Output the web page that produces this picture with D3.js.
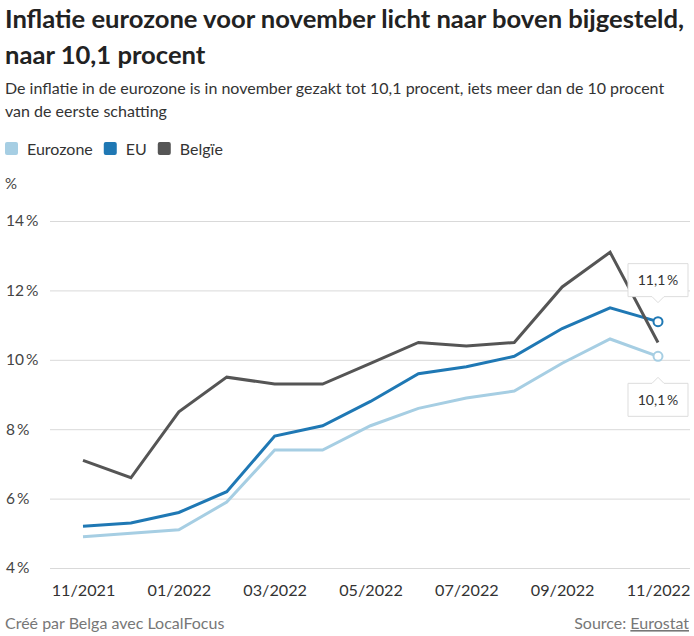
<!DOCTYPE html>
<html><head><meta charset="utf-8">
<script src="https://cdn.jsdelivr.net/npm/d3@7"></script>
<style>
body{margin:0;background:#fff;font-family:Lato,"Open Sans",sans-serif;}
</style></head>
<body><svg id="c" width="694" height="636"></svg>
<script>
const months = ["11/2021","12/2021","01/2022","02/2022","03/2022","04/2022","05/2022","06/2022","07/2022","08/2022","09/2022","10/2022","11/2022"];
const tickLabels = ["11/2021","01/2022","03/2022","05/2022","07/2022","09/2022","11/2022"];
const eurozone = [4.9,5.0,5.1,5.9,7.4,7.4,8.1,8.6,8.9,9.1,9.9,10.6,10.1];
const eu = [5.2,5.3,5.6,6.2,7.8,8.1,8.8,9.6,9.8,10.1,10.9,11.5,11.1];
const belgie = [7.1,6.6,8.5,9.5,9.3,9.3,9.9,10.5,10.4,10.5,12.1,13.1,10.5];
const yTicks = [4,6,8,10,12,14];
const seriesNames = ["Eurozone","EU","Belgïe"];
const colors = ["#a6cee3","#1f78b4","#555555"];

const svg = d3.select("#c");
const x = d3.scalePoint().domain(months).range([83,658]);
const y = d3.scaleLinear().domain([4,14]).range([568,221]);

// title
svg.append("text").attr("x",5).attr("y",28).attr("font-size",25.6).attr("font-weight",700).attr("fill","#222").text("Inflatie eurozone voor november licht naar boven bijgesteld,");
svg.append("text").attr("x",5).attr("y",64).attr("font-size",25.6).attr("font-weight",700).attr("fill","#222").text("naar 10,1 procent");
svg.append("text").attr("x",5).attr("y",94).attr("font-size",16).attr("fill","#333").text("De inflatie in de eurozone is in november gezakt tot 10,1 procent, iets meer dan de 10 procent");
svg.append("text").attr("x",5).attr("y",117).attr("font-size",16).attr("fill","#333").text("van de eerste schatting");

// legend
const lg = svg.append("g");
let lx = 5;
seriesNames.forEach((n,i)=>{
  lg.append("rect").attr("x",lx).attr("y",142).attr("width",13).attr("height",13).attr("rx",2).attr("fill",colors[i]);
  const t = lg.append("text").attr("x",lx+22).attr("y",155).attr("font-size",16).attr("fill","#333").text(n);
  lx += 22 + t.node().getComputedTextLength() + 11;
});
svg.append("text").attr("x",5).attr("y",189).attr("font-size",15).attr("fill","#444").text("%");

// y grid + labels
const ya = svg.append("g").attr("transform","translate(50,0)")
  .call(d3.axisRight(y).tickValues(yTicks).tickSize(640).tickFormat(d=>d+"\u2009%"));
ya.select(".domain").remove();
ya.selectAll(".tick line").attr("stroke","#d9d9d9").attr("stroke-width",1);
ya.selectAll(".tick text").attr("x",-44).attr("text-anchor","start").attr("font-size",15.5).attr("font-family","Lato").attr("fill","#444");

// x axis
const xa = svg.append("g").attr("transform","translate(0,568)")
  .call(d3.axisBottom(x).tickValues(tickLabels).tickSize(0).tickPadding(16));
xa.select(".domain").remove();
xa.selectAll(".tick text").attr("font-size",16.2).attr("font-family","Lato").attr("fill","#333");

// lines
const line = d3.line().x((d,i)=>x(months[i])).y(d=>y(d));
[eurozone,eu,belgie].forEach((s,i)=>{
  svg.append("path").datum(s).attr("d",line).attr("fill","none").attr("stroke",colors[i]).attr("stroke-width",3).attr("stroke-linejoin","miter");
});

// end markers
const last = months.length-1;
[[eurozone,0],[eu,1]].forEach(([s,i])=>{
  svg.append("circle").attr("cx",x(months[last])).attr("cy",y(s[last])).attr("r",4.5).attr("fill","#fff").attr("stroke",colors[i]).attr("stroke-width",2);
});

// annotation boxes
function box(cx, cy, up, label){
  const w=60,h=33,p=6;
  const g = svg.append("g");
  let d;
  const top=cy, bot=cy+h;
  if(!up){
    d=`M${cx-w/2},${top}H${cx+w/2}V${bot}H${cx+p}L${cx},${bot+p}L${cx-p},${bot}H${cx-w/2}Z`;
  } else {
    d=`M${cx-w/2},${top}H${cx-p}L${cx},${top-p}L${cx+p},${top}H${cx+w/2}V${bot}H${cx-w/2}Z`;
  }
  g.append("path").attr("d",d).attr("fill","#fff").attr("stroke","#ddd").attr("stroke-width",1).attr("stroke-linejoin","round");
  g.append("text").attr("x",cx).attr("y",cy+h/2+5).attr("text-anchor","middle").attr("font-size",14).attr("fill","#333").text(label);
}
box(x(months[last]), y(eu[last])-58, false, "11,1\u2009%");
box(x(months[last]), y(eurozone[last])+27, true, "10,1\u2009%");

// footer
svg.append("text").attr("x",5).attr("y",629).attr("font-size",16).attr("fill","#777").text("Créé par Belga avec LocalFocus");
const src = svg.append("text").attr("x",689).attr("y",629).attr("text-anchor","end").attr("font-size",16).attr("fill","#777");
src.append("tspan").text("Source:  ");
src.append("tspan").attr("text-decoration","underline").text("Eurostat");
</script></body></html>
